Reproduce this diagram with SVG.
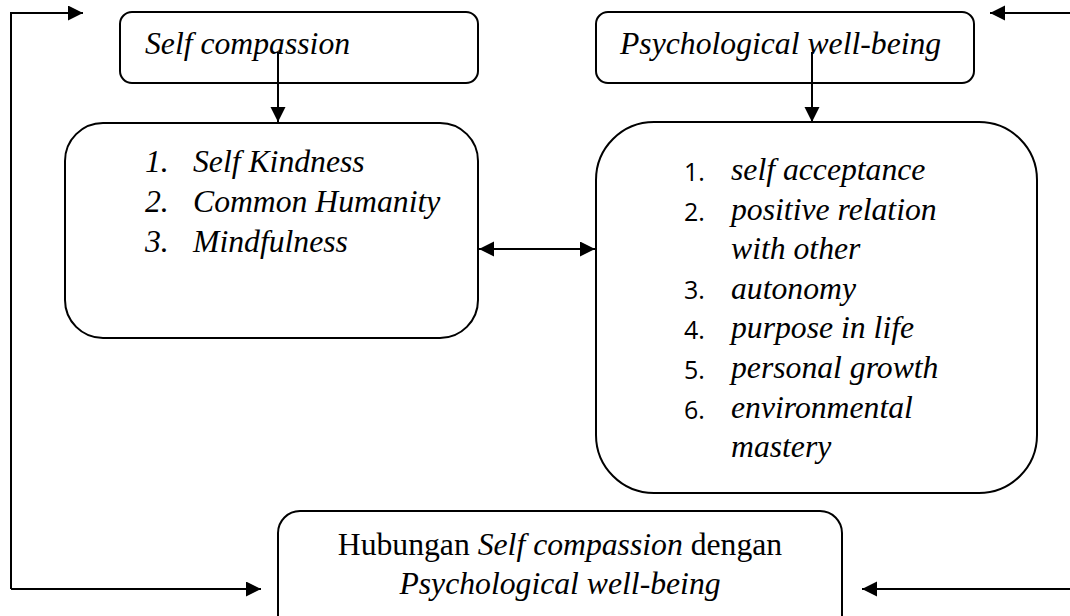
<svg xmlns="http://www.w3.org/2000/svg" width="1070" height="616" viewBox="0 0 1070 616">
<style>
.box{fill:#fff;stroke:#000;stroke-width:2}
.t{font-family:"Liberation Serif","Times New Roman",serif;font-size:31.7px;fill:#000}
.i{font-style:italic}
.n{font-family:"Open Sans","Liberation Sans",sans-serif;font-size:25px;fill:#000}
.c{fill:none;stroke:#000;stroke-width:2}
</style>
<defs>
<marker id="ah" markerUnits="userSpaceOnUse" markerWidth="16" markerHeight="16" refX="15" refY="7.5" orient="auto-start-reverse">
<path d="M0,0 L15,7.5 L0,15 z" fill="#000"/>
</marker>
</defs>
<rect width="1070" height="616" fill="#fff"/>
<g id="node-self-compassion">
<rect class="box" x="120" y="12" width="358" height="71" rx="12"/>
<text class="t i" x="145" y="54">Self compassion</text>
</g>
<g id="node-pwb">
<rect class="box" x="596" y="12" width="378" height="71" rx="12"/>
<text class="t i" x="620" y="54">Psychological well-being</text>
</g>
<g id="node-sc-aspects">
<rect class="box" x="65" y="123" width="413" height="215" rx="38"/>
<text class="t i" x="145" y="172">1.</text><text class="t i" x="193" y="172">Self Kindness</text>
<text class="t i" x="145" y="212">2.</text><text class="t i" x="193" y="212">Common Humanity</text>
<text class="t i" x="145" y="252">3.</text><text class="t i" x="193" y="252">Mindfulness</text>
</g>
<g id="node-pwb-aspects">
<rect class="box" x="596" y="122" width="441" height="371" rx="58"/>
<text class="n" x="684" y="181">1.</text><text class="t i" x="731" y="180">self acceptance</text>
<text class="n" x="684" y="221">2.</text><text class="t i" x="731" y="220">positive relation</text>
<text class="t i" x="731" y="259">with other</text>
<text class="n" x="684" y="299">3.</text><text class="t i" x="731" y="299">autonomy</text>
<text class="n" x="684" y="339">4.</text><text class="t i" x="731" y="338">purpose in life</text>
<text class="n" x="684" y="379">5.</text><text class="t i" x="731" y="378">personal growth</text>
<text class="n" x="684" y="419">6.</text><text class="t i" x="731" y="418">environmental</text>
<text class="t i" x="731" y="457">mastery</text>
</g>
<g id="node-relation">
<rect class="box" x="278" y="511" width="564" height="130" rx="22"/>
<text class="t" x="560" y="555" text-anchor="middle">Hubungan <tspan class="i">Self compassion</tspan> dengan</text>
<text class="t i" x="560" y="594" text-anchor="middle">Psychological well-being</text>
</g>
<g id="connectors">
<path class="c" d="M278,52 V122" marker-end="url(#ah)"/>
<path class="c" d="M812,52 V122" marker-end="url(#ah)"/>
<path class="c" d="M479,249 H595" marker-start="url(#ah)" marker-end="url(#ah)"/>
<path class="c" d="M11,589 V13 H83" marker-end="url(#ah)"/>
<path class="c" d="M11,589 H261" marker-end="url(#ah)"/>
<path class="c" d="M1072,13 H990" marker-end="url(#ah)"/>
<path class="c" d="M1072,589 H862" marker-end="url(#ah)"/>
</g>
</svg>
